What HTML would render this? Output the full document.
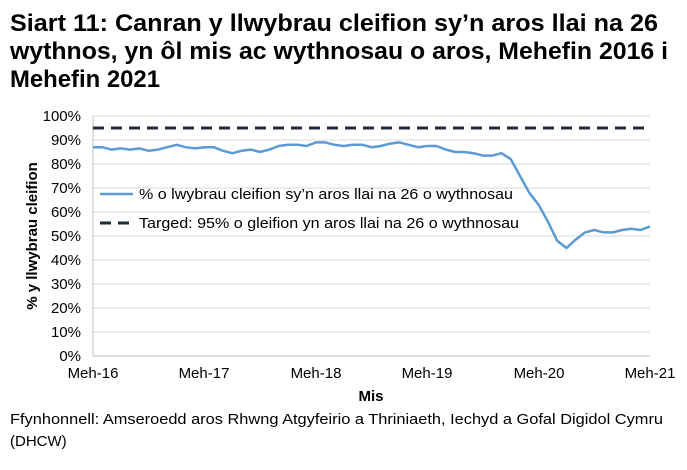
<!DOCTYPE html><html><head><style>body{margin:0;background:#fff;font-family:"Liberation Sans",Arial,sans-serif}</style></head><body>
<svg width="687" height="465" xmlns="http://www.w3.org/2000/svg" font-family="Liberation Sans, Arial, sans-serif">
<g font-weight="bold" font-size="24" fill="#000">
<text x="10" y="31" textLength="648" lengthAdjust="spacingAndGlyphs">Siart 11: Canran y llwybrau cleifion sy’n aros llai na 26</text>
<text x="10" y="59" textLength="658" lengthAdjust="spacingAndGlyphs">wythnos, yn ôl mis ac wythnosau o aros, Mehefin 2016 i</text>
<text x="10" y="87" textLength="150" lengthAdjust="spacingAndGlyphs">Mehefin 2021</text></g>
<g stroke="#d9d9d9" stroke-width="1">
<line x1="93" x2="650" y1="116" y2="116"/><line x1="93" x2="650" y1="140" y2="140"/><line x1="93" x2="650" y1="164" y2="164"/><line x1="93" x2="650" y1="188" y2="188"/><line x1="93" x2="650" y1="212" y2="212"/><line x1="93" x2="650" y1="236" y2="236"/><line x1="93" x2="650" y1="260" y2="260"/><line x1="93" x2="650" y1="284" y2="284"/><line x1="93" x2="650" y1="308" y2="308"/><line x1="93" x2="650" y1="332" y2="332"/></g>
<line x1="93" x2="650" y1="356" y2="356" stroke="#bfbfbf"/><line x1="93" x2="93" y1="116" y2="356" stroke="#bfbfbf"/>
<g font-size="15" fill="#000" text-anchor="end">
<text x="81" y="121">100%</text><text x="81" y="145">90%</text><text x="81" y="169">80%</text><text x="81" y="193">70%</text><text x="81" y="217">60%</text><text x="81" y="241">50%</text><text x="81" y="265">40%</text><text x="81" y="289">30%</text><text x="81" y="313">20%</text><text x="81" y="337">10%</text><text x="81" y="361">0%</text></g>
<g font-size="15" fill="#000" text-anchor="middle">
<text x="93" y="378">Meh-16</text><text x="204" y="378">Meh-17</text><text x="316" y="378">Meh-18</text><text x="427" y="378">Meh-19</text><text x="539" y="378">Meh-20</text><text x="650" y="378">Meh-21</text>
<text x="371" y="401" font-weight="bold">Mis</text></g>
<text transform="translate(37,236) rotate(-90)" font-size="15" font-weight="bold" text-anchor="middle">% y llwybrau cleifion</text>
<line x1="93" x2="650" y1="128" y2="128" stroke="#1f2a3a" stroke-width="3" stroke-dasharray="11,7"/>
<polyline id="p" fill="none" stroke="#5b9bd5" stroke-width="2.5" stroke-linejoin="round"/>
<line x1="100" x2="133" y1="194" y2="194" stroke="#5b9bd5" stroke-width="2.5"/>
<text x="139" y="199" font-size="15" textLength="374" lengthAdjust="spacingAndGlyphs">% o lwybrau cleifion sy’n aros llai na 26 o wythnosau</text>
<line x1="100" x2="133" y1="223" y2="223" stroke="#1f2a3a" stroke-width="3" stroke-dasharray="11,7"/>
<text x="139" y="228" font-size="15" textLength="380" lengthAdjust="spacingAndGlyphs">Targed: 95% o gleifion yn aros llai na 26 o wythnosau</text>
<g font-size="15" fill="#000"><text x="10" y="424" textLength="653" lengthAdjust="spacingAndGlyphs">Ffynhonnell: Amseroedd aros Rhwng Atgyfeirio a Thriniaeth, Iechyd a Gofal Digidol Cymru</text><text x="10" y="446">(DHCW)</text></g>
</svg>
<script>
var d=[87,87,86,86.5,86,86.5,85.5,86,87,88,87,86.5,87,87,85.5,84.5,85.5,86,85,86,87.5,88,88,87.5,89,89,88,87.5,88,88,87,87.5,88.5,89,88,87,87.5,87.5,86,85,85,84.5,83.5,83.5,84.5,82,75,68,63,56,48,45,48.5,51.5,52.5,51.5,51.5,52.5,53,52.5,54];
document.getElementById('p').setAttribute('points',d.map(function(v,i){return (93+i*557/60).toFixed(1)+','+(356-v*2.4).toFixed(1)}).join(' '));
</script>
</body></html>
